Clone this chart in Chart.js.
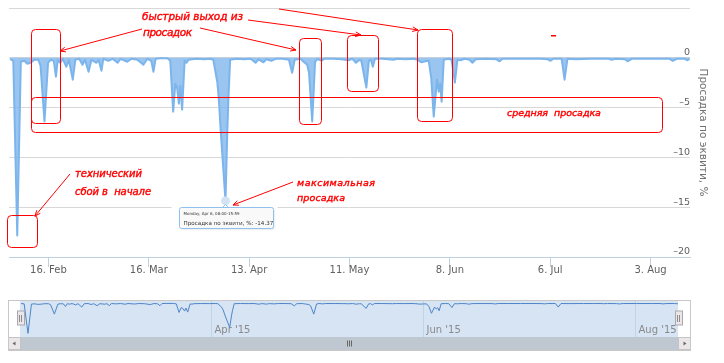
<!DOCTYPE html>
<html>
<head>
<meta charset="utf-8">
<script src="https://cdn.jsdelivr.net/npm/chart.js@4.4.0/dist/chart.umd.min.js"></script>
<style>
  html, body { margin: 0; padding: 0; background: #fff; }
  #wrap { position: relative; width: 724px; height: 363px; overflow: hidden; }
  #main { position: absolute; left: 0; top: 0; }
  #nav { position: absolute; left: 0; top: 290px; }
</style>
</head>
<body>
<div id="wrap">
  <canvas id="main" width="724" height="290"></canvas>
  <canvas id="nav" width="724" height="73"></canvas>
</div>
<script>
// days counted from 5 Feb 2015
const days = [
  0.3, 1.2, 2.3, 3.3, 4.3, 5.1, 6.0, 7.1, 8.2, 8.8,
  9.9, 10.9, 11.6, 12.5, 13.1, 13.6, 14.3, 15.0, 16.0, 16.7,
  17.8, 18.5, 19.6, 20.5, 21.2, 22.2, 23.0, 24.4, 25.0, 25.8,
  26.3, 27.7, 28.9, 30.3, 31.1, 33.0, 34.2, 35.8, 37.5, 38.6,
  39.7, 40.3, 40.9, 42.3, 44.2, 45.0, 45.8, 46.4, 46.9, 47.4,
  47.8, 48.3, 49.0, 49.5, 50.1, 52.3, 54.5, 56.2, 57.0, 58.1,
  58.5, 59.1, 60.4, 60.9, 61.2, 61.7, 63.5, 65.7, 67.4, 68.8,
  69.6, 71.0, 71.8, 73.2, 74.4, 76.3, 78.1, 79.0, 79.7, 81.3,
  82.2, 83.2, 83.7, 84.6, 85.4, 86.1, 87.2, 88.0, 90.5, 92.8,
  94.7, 95.8, 96.8, 97.8, 98.3, 99.7, 100.4, 101.0, 101.5, 102.1,
  104.2, 107.3, 108.4, 110.6, 112.9, 114.0, 115.1, 116.2, 117.1, 117.8,
  118.5, 119.4, 119.9, 120.3, 120.7, 121.3, 122.6, 123.5, 124.4, 125.1,
  126.0, 127.1, 128.5, 129.3, 130.2, 133.0, 136.0, 136.9, 137.7, 140.5,
  144.1, 148.3, 150.3, 151.1, 151.9, 154.2, 155.0, 155.8, 158.1, 162.3,
  165.1, 167.3, 168.1, 169.2, 171.8, 172.6, 173.7, 177.6, 181.8, 184.3,
  185.2, 186.3, 188.5, 189.3, 189.9
];

// drawdown of equity, %
const drawdown = [
  -0.1, -0.3, -17.85, -0.4, -0.3, -0.6, -0.5, -0.2, -0.2, -0.8,
  -6.4, -0.5, -0.2, -0.3, -1.9, -0.2, -0.5, -0.1, -0.9, -0.2,
  -2.2, -0.2, -0.1, -0.7, -0.2, -1.4, -0.2, -0.5, -0.2, -1.3,
  -0.1, -0.3, -0.1, -0.5, -0.1, -0.4, -0.1, -0.2, -0.7, -0.1,
  -0.3, -1.4, -0.1, -0.05, -0.05, -0.3, -5.4, -2.6, -3.0, -4.6,
  -2.8, -5.2, -0.3, -0.5, -0.2, -0.1, -0.15, -0.1, -0.2, -2.4,
  -3.9, -7.5, -14.37, -7.5, -4.2, -0.2, -0.1, -0.15, -0.1, -0.5,
  -0.15, -0.45, -0.15, -0.3, -0.1, -0.1, -0.2, -1.5, -0.2, -0.1,
  -0.4, -0.7, -1.5, -6.4, -0.4, -0.1, -0.3, -0.1, -0.1, -0.15,
  -0.25, -0.1, -0.5, -0.2, -0.3, -3.0, -0.3, -0.2, -0.9, -0.1,
  -0.1, -0.2, -0.1, -0.15, -0.1, -0.2, -0.45, -0.35, -0.3, -2.0,
  -5.9, -2.2, -3.4, -2.6, -4.4, -0.2, -0.1, -0.2, -2.5, -0.2,
  -0.25, -0.1, -0.2, -0.5, -0.15, -0.1, -0.15, -0.35, -0.1, -0.1,
  -0.1, -0.1, -0.15, -0.3, -0.1, -0.1, -2.2, -0.1, -0.15, -0.1,
  -0.1, -0.1, -0.2, -0.1, -0.15, -0.35, -0.1, -0.1, -0.1, -0.1,
  -0.3, -0.1, -0.1, -0.25, -0.1
];

const tickDays = [11, 39, 67, 95, 123, 151, 179];
const tickLabels = ['16. Feb', '16. Mar', '13. Apr', '11. May', '8. Jun', '6. Jul', '3. Aug'];
const navDays = [55, 116, 177];
const navLabels = ["Apr '15", "Jun '15", "Aug '15"];

const seriesName = 'Просадка по эквити, %';
const tooltipHeader = 'Monday, Apr 6, 08:00-15:59';

const points = days.map((d, i) => ({ x: d, y: drawdown[i] }));
const maxIdx = drawdown.indexOf(Math.min(...drawdown.slice(10)));

Chart.defaults.font.family = '"DejaVu Sans", sans-serif';

// red hand-made notes laid over the picture (pixels)
const noteBoxes = [
  [31, 29, 60, 123], [299, 38, 321, 124], [347, 35, 378, 91],
  [417, 29, 452, 121], [31, 97, 662, 132], [7, 215, 37, 247]
];
const noteArrows = [
  [142, 29, 60, 51], [200, 28, 296, 50], [248, 20, 361, 35],
  [279, 9, 418, 30], [70, 174, 35, 216], [293, 182, 233, 205]
];
const noteTexts = [
  ['быстрый выход из', 142, 20, 101, 10.5],
  ['просадок', 143, 35.5, 49, 10.5],
  ['средняя  просадка', 507, 116, 94, 9.5],
  ['технический', 75, 177, 67, 10],
  ['сбой в  начале', 75, 195, 76, 10],
  ['максимальная', 297, 186, 78, 9.5],
  ['просадка', 297, 200.5, 48, 9.5]
];

function roundRect(ctx, x, y, w, h, r) {
  ctx.beginPath();
  ctx.moveTo(x + r, y);
  ctx.arcTo(x + w, y, x + w, y + h, r);
  ctx.arcTo(x + w, y + h, x, y + h, r);
  ctx.arcTo(x, y + h, x, y, r);
  ctx.arcTo(x, y, x + w, y, r);
  ctx.closePath();
}

const hoverTip = {
  id: 'hoverTip',
  afterDraw(chart) {
    const { ctx, scales: { x, y } } = chart;
    const px = x.getPixelForValue(days[maxIdx]);
    const py = y.getPixelForValue(drawdown[maxIdx]);
    ctx.save();
    ctx.fillStyle = '#fff';
    ctx.fillRect(px - 54, py + 4, 106, 24);
    // callout box
    const bx = Math.round(px - 46) + 0.5, by = Math.round(py + 6) + 0.5, bw = 94, bh = 21;
    ctx.shadowColor = 'rgba(0,0,0,0.12)';
    ctx.shadowOffsetX = 1; ctx.shadowOffsetY = 1; ctx.shadowBlur = 2;
    roundRect(ctx, bx, by, bw, bh, 2);
    ctx.fillStyle = 'rgba(250,250,250,0.96)';
    ctx.fill();
    ctx.shadowColor = 'transparent';
    ctx.strokeStyle = '#8fc0ee';
    ctx.lineWidth = 1;
    ctx.stroke();
    ctx.beginPath();
    ctx.moveTo(px - 3, by); ctx.lineTo(px, by - 3); ctx.lineTo(px + 3, by);
    ctx.stroke();
    ctx.fillStyle = '#333';
    ctx.textBaseline = 'alphabetic';
    ctx.font = '4px "DejaVu Sans"';
    ctx.fillText(tooltipHeader, px - 42, py + 14.5);
    ctx.font = '5.6px "DejaVu Sans"';
    ctx.fillText(seriesName + ': ' + drawdown[maxIdx].toFixed(2), px - 42, py + 24);
    ctx.restore();

    // red notes
    ctx.save();
    ctx.strokeStyle = '#ff0000';
    ctx.fillStyle = '#ff0000';
    ctx.lineWidth = 1;
    noteBoxes.forEach(([x1, y1, x2, y2]) => {
      roundRect(ctx, x1 + 0.5, y1 + 0.5, x2 - x1, y2 - y1, 4);
      ctx.stroke();
    });
    noteArrows.forEach(([x1, y1, x2, y2]) => {
      const a = Math.atan2(y2 - y1, x2 - x1);
      ctx.beginPath();
      ctx.moveTo(x1, y1); ctx.lineTo(x2, y2);
      ctx.moveTo(x2 - 6 * Math.cos(a - 0.4), y2 - 6 * Math.sin(a - 0.4));
      ctx.lineTo(x2, y2);
      ctx.lineTo(x2 - 6 * Math.cos(a + 0.4), y2 - 6 * Math.sin(a + 0.4));
      ctx.stroke();
    });
    ctx.fillRect(551, 35, 5, 1.5);
    ctx.textBaseline = 'alphabetic';
    ctx.lineWidth = 0.4;
    noteTexts.forEach(([t, tx, ty, w, size]) => {
      ctx.font = 'italic ' + size + 'px "DejaVu Sans"';
      ctx.letterSpacing = '0px';
      const m = ctx.measureText(t).width;
      ctx.letterSpacing = ((w - m) / (t.length - 1)).toFixed(2) + 'px';
      ctx.fillText(t, tx, ty);
      ctx.strokeText(t, tx, ty);
    });
    ctx.restore();
  }
};

new Chart(document.getElementById('main'), {
  type: 'line',
  data: {
    datasets: [{
      label: seriesName,
      data: points,
      borderColor: '#7cb5ec',
      backgroundColor: 'rgba(124,181,236,0.78)',
      borderWidth: 2,
      borderJoinStyle: 'round',
      fill: 'origin',
      tension: 0,
      pointRadius: c => (c.dataIndex === maxIdx ? 4.5 : 0),
      pointBackgroundColor: '#d3e3f4',
      pointBorderWidth: 0
    }]
  },
  options: {
    responsive: false,
    animation: false,
    events: [],
    devicePixelRatio: 1,
    layout: { padding: { left: 9, top: 8, right: 0, bottom: 0 } },
    plugins: { legend: { display: false }, tooltip: { enabled: false } },
    scales: {
      x: {
        type: 'linear',
        min: 0,
        max: 190,
        afterBuildTicks: s => { s.ticks = tickDays.map(v => ({ value: v })); },
        afterFit: s => { s.height = 33; },
        ticks: {
          autoSkip: false,
          maxRotation: 0,
          padding: -3,
          color: '#606060',
          font: { size: 10 },
          callback: v => tickLabels[tickDays.indexOf(v)]
        },
        grid: { drawOnChartArea: false, tickLength: 10, color: '#c0d0e0' },
        border: { color: '#c0d0e0' }
      },
      y: {
        position: 'right',
        min: -20,
        max: 5,
        afterFit: s => { s.width = 34; },
        ticks: {
          stepSize: 5,
          mirror: true,
          padding: 0,
          labelOffset: -5,
          color: '#606060',
          font: { size: 9.5 },
          callback: v => (v === 5 ? '' : String(v).replace('-', '–'))
        },
        grid: {
          drawTicks: false,
          color: c => (c.tick && c.tick.value === -20 ? '#c0d0e0' : '#d8d8d8')
        },
        border: { display: false },
        title: {
          display: true,
          text: seriesName,
          color: '#707070',
          font: { size: 10.5 },
          padding: { top: 15, bottom: 0 }
        }
      }
    }
  },
  plugins: [hoverTip]
});

const navDecor = {
  id: 'navDecor',
  beforeDraw(chart) {
    const { ctx, chartArea: a, scales: { x } } = chart;
    ctx.save();
    ctx.fillStyle = '#d6e4f4';
    ctx.fillRect(a.left, a.top - 1, a.right - a.left, a.bottom - a.top + 1);
    ctx.strokeStyle = '#c3d3e6';
    ctx.lineWidth = 1;
    ctx.fillStyle = '#8a8a8a';
    ctx.font = '10px "DejaVu Sans"';
    navDays.forEach((d, i) => {
      const px = Math.round(x.getPixelForValue(d)) + 0.5;
      ctx.beginPath();
      ctx.moveTo(px, a.top - 1); ctx.lineTo(px, a.bottom);
      ctx.stroke();
      ctx.fillText(navLabels[i], px + 3, a.bottom - 4);
    });
    ctx.restore();
  },
  afterDraw(chart) {
    const { ctx, chartArea: a } = chart;
    ctx.save();
    // scrollbar
    const sy = a.bottom, sh = 13;
    ctx.fillStyle = '#bfc8d1';
    ctx.fillRect(a.left + 1, sy, a.right - a.left - 1, sh);
    ctx.fillStyle = '#ebe7e8';
    ctx.strokeStyle = '#c4c4c4';
    [[8, sy], [a.right, sy]].forEach(([bx, by]) => {
      ctx.fillRect(bx, by, 13, sh);
      ctx.strokeRect(bx + 0.5, by + 0.5, 12, sh - 1);
    });
    ctx.fillStyle = '#666';
    const my = sy + sh / 2;
    ctx.beginPath();
    ctx.moveTo(12.5, my); ctx.lineTo(15.5, my - 2); ctx.lineTo(15.5, my + 2); ctx.closePath();
    ctx.fill();
    const rx = a.right + 6.5;
    ctx.beginPath();
    ctx.moveTo(rx + 2, my); ctx.lineTo(rx - 1, my - 2); ctx.lineTo(rx - 1, my + 2); ctx.closePath();
    ctx.fill();
    ctx.strokeStyle = '#666';
    const cx = Math.round((a.left + a.right) / 2);
    [-2, 0, 2].forEach(o => {
      ctx.beginPath();
      ctx.moveTo(cx + o + 0.5, sy + 3.5); ctx.lineTo(cx + o + 0.5, sy + 9.5);
      ctx.stroke();
    });
    // outline
    ctx.strokeStyle = '#c8c8c8';
    ctx.strokeRect(8.5, a.top - 0.5, 682, sy + sh - a.top + 1);
    // handles
    [a.left, a.right].forEach(hx => {
      const x0 = Math.round(hx - 3.5) + 0.5;
      ctx.fillStyle = '#ebe7e8';
      ctx.fillRect(x0, a.top + 10, 7, 14);
      ctx.strokeStyle = '#a9a8ad';
      ctx.strokeRect(x0, a.top + 10, 7, 14);
      ctx.strokeStyle = '#8c8c8c';
      [2, 4].forEach(o => {
        ctx.beginPath();
        ctx.moveTo(x0 + o, a.top + 14); ctx.lineTo(x0 + o, a.top + 21);
        ctx.stroke();
      });
    });
    ctx.restore();
  }
};

new Chart(document.getElementById('nav'), {
  type: 'line',
  data: {
    datasets: [{
      data: points,
      borderColor: '#4f86c6',
      borderWidth: 1,
      fill: false,
      tension: 0,
      pointRadius: 0
    }]
  },
  options: {
    responsive: false,
    animation: false,
    events: [],
    devicePixelRatio: 1,
    layout: { padding: { left: 20, right: 46, top: 11, bottom: 26 } },
    plugins: { legend: { display: false }, tooltip: { enabled: false } },
    scales: {
      x: { type: 'linear', display: false, min: 0, max: 189.5 },
      y: { display: false, min: -20, max: 1.4 }
    }
  },
  plugins: [navDecor]
});
</script>
</body>
</html>
